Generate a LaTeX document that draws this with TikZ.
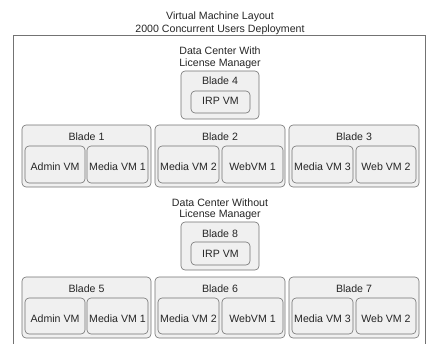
\documentclass[tikz,border=0pt]{standalone}
\usepackage{fontspec}
\setmainfont{Liberation Sans}
\begin{document}
\begin{tikzpicture}[x=1pt,y=-1pt,
  txt/.style={anchor=base,inner sep=0pt,font=\fontsize{10.6}{12}\selectfont,text=black!85},
  bladebox/.style={draw=black!55,fill=black!6,rounded corners=4pt,line width=0.6pt,inner sep=0pt},
  vmbox/.style={draw=black!55,fill=black!6,rounded corners=4pt,line width=0.6pt,inner sep=0pt},
  outerbox/.style={draw=black!55,line width=0.6pt}]
\useasboundingbox (0,0) rectangle (428,343);
\fill[white] (0,0) rectangle (428,343);
% titles
\node[txt] (t1) at (220,19) {Virtual Machine Layout};
\node[txt] (t2) at (220,32) {2000 Concurrent Users Deployment};
% outer box
\draw[outerbox] (13,360) -- (13,35) -- (425,35) -- (425,360);
% data center 1
\node[txt] (dc1a) at (220,54) {Data Center With};
\node[txt] (dc1b) at (220,66) {License Manager};
\node[bladebox,minimum width=78,minimum height=48] (b4) at (220,95) {};
\node[txt] (b4l) at (220,84) {Blade 4};
\node[vmbox,minimum width=59,minimum height=22] (irp1) at (220.5,102) {};
\node[txt] (irp1l) at (220.5,104.5) {IRP VM};
% row 1
\node[bladebox,minimum width=129,minimum height=62] (b1) at (86.5,156) {};
\node[bladebox,minimum width=130,minimum height=62] (b2) at (220,156) {};
\node[bladebox,minimum width=130,minimum height=62] (b3) at (354,156) {};
\node[txt] (b1l) at (86.5,140) {Blade 1};
\node[txt] (b2l) at (220,140) {Blade 2};
\node[txt] (b3l) at (354,140) {Blade 3};
\node[vmbox,minimum width=60,minimum height=37] (v11) at (55,164.5) {};
\node[vmbox,minimum width=61,minimum height=37] (v12) at (117.5,164.5) {};
\node[vmbox,minimum width=61,minimum height=37] (v21) at (188.5,164.5) {};
\node[vmbox,minimum width=61,minimum height=37] (v22) at (252.5,164.5) {};
\node[vmbox,minimum width=61,minimum height=37] (v31) at (322.5,164.5) {};
\node[vmbox,minimum width=60,minimum height=37] (v32) at (386,164.5) {};
\node[txt] (v11l) at (55,170) {Admin VM};
\node[txt] (v12l) at (117.5,170) {Media VM 1};
\node[txt] (v21l) at (188.5,170) {Media VM 2};
\node[txt] (v22l) at (252.5,170) {WebVM 1};
\node[txt] (v31l) at (322.5,170) {Media VM 3};
\node[txt] (v32l) at (386,170) {Web VM 2};
% data center 2
\node[txt] (dc2a) at (220,206) {Data Center Without};
\node[txt] (dc2b) at (220,217.5) {License Manager};
\node[bladebox,minimum width=78,minimum height=48] (b8) at (220,246) {};
\node[txt] (b8l) at (220,237) {Blade 8};
\node[vmbox,minimum width=59,minimum height=23] (irp2) at (220.5,253.5) {};
\node[txt] (irp2l) at (220.5,257) {IRP VM};
% row 2
\node[bladebox,minimum width=129,minimum height=61] (b5) at (86.5,307.5) {};
\node[bladebox,minimum width=130,minimum height=61] (b6) at (220,307.5) {};
\node[bladebox,minimum width=130,minimum height=61] (b7) at (354,307.5) {};
\node[txt] (b5l) at (86.5,292) {Blade 5};
\node[txt] (b6l) at (220,292) {Blade 6};
\node[txt] (b7l) at (354,292) {Blade 7};
\node[vmbox,minimum width=60,minimum height=36] (w11) at (55,316) {};
\node[vmbox,minimum width=61,minimum height=36] (w12) at (117.5,316) {};
\node[vmbox,minimum width=61,minimum height=36] (w21) at (188.5,316) {};
\node[vmbox,minimum width=61,minimum height=36] (w22) at (252.5,316) {};
\node[vmbox,minimum width=61,minimum height=36] (w31) at (322.5,316) {};
\node[vmbox,minimum width=60,minimum height=36] (w32) at (386,316) {};
\node[txt] (w11l) at (55,322) {Admin VM};
\node[txt] (w12l) at (117.5,322) {Media VM 1};
\node[txt] (w21l) at (188.5,322) {Media VM 2};
\node[txt] (w22l) at (252.5,322) {WebVM 1};
\node[txt] (w31l) at (322.5,322) {Media VM 3};
\node[txt] (w32l) at (386,322) {Web VM 2};
\end{tikzpicture}
\end{document}
